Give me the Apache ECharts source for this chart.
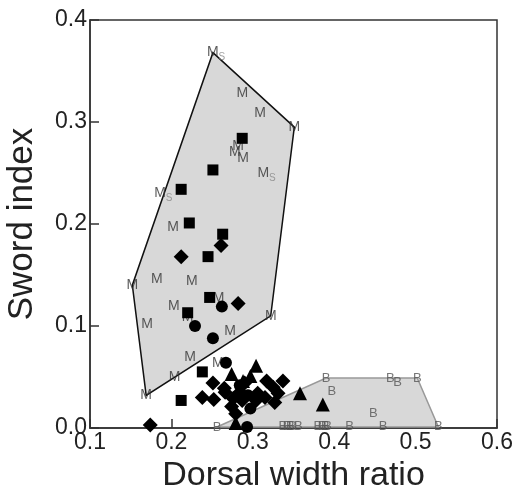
<!DOCTYPE html>
<html>
<head>
<meta charset="utf-8">
<script src="https://cdn.jsdelivr.net/npm/echarts@6/dist/echarts.min.js"></script>
<style>html,body{margin:0;padding:0;background:#fff}#c{width:526px;height:496px}</style>
</head>
<body>
<div id="c"></div>
<script>
const xTicks = [0.1, 0.2, 0.3, 0.4, 0.5, 0.6];
const yTicks = [0.0, 0.1, 0.2, 0.3, 0.4];

const squares = [[0.287,0.284],[0.251,0.253],[0.212,0.234],[0.222,0.201],[0.263,0.190],[0.245,0.168],[0.247,0.128],[0.220,0.113],[0.238,0.055],[0.212,0.027]];
const diamonds = [[0.261,0.179],[0.212,0.168],[0.282,0.122],[0.174,0.003],
  [0.251,0.044],[0.265,0.039],[0.238,0.030],[0.252,0.028],[0.266,0.035],[0.276,0.029],[0.287,0.027],[0.274,0.021],[0.284,0.035],
  [0.317,0.046],[0.337,0.046],[0.315,0.030],[0.331,0.034],[0.327,0.025],[0.325,0.040],[0.306,0.034],[0.304,0.027],[0.290,0.044],[0.279,0.014]];
const circles = [[0.262,0.119],[0.229,0.100],[0.251,0.088],[0.267,0.064],[0.294,0.032],[0.297,0.019],[0.293,0.001],[0.284,0.042]];
const triangles = [[0.304,0.061],[0.274,0.053],[0.297,0.051],[0.288,0.046],[0.358,0.034],[0.386,0.023],[0.279,0.005]];

const mPoints = [[0.287,0.328],[0.309,0.309],[0.351,0.295],[0.282,0.276],[0.278,0.270],[0.288,0.265],[0.202,0.197],[0.152,0.140],[0.182,0.146],[0.225,0.144],[0.258,0.127],[0.203,0.119],[0.220,0.109],[0.170,0.102],[0.272,0.095],[0.322,0.110],[0.223,0.069],[0.204,0.050],[0.257,0.064],[0.169,0.032]];
const msPoints = [[0.251,0.368],[0.313,0.250],[0.186,0.230]];
const bPoints = [[0.256,0.001],[0.390,0.049],[0.397,0.036],[0.469,0.049],[0.478,0.045],[0.502,0.049],[0.448,0.014],
  [0.337,0.002],[0.342,0.002],[0.346,0.002],[0.349,0.002],[0.356,0.002],[0.380,0.002],[0.385,0.002],[0.389,0.002],[0.392,0.002],[0.419,0.002],[0.460,0.002],[0.528,0.002]];

const hullM = [[0.251,0.368],[0.351,0.295],[0.322,0.110],[0.169,0.032],[0.152,0.140]];
const hullB = [[0.256,0.001],[0.390,0.049],[0.502,0.049],[0.528,0.001]];

const FONT = '"Liberation Sans", Arial, sans-serif';
const chart = echarts.init(document.getElementById('c'));

function hullSeries(verts, stroke, z) {
  return {
    type: 'custom', z: z, silent: true,
    data: [0],
    renderItem: function (params, api) {
      const pts = verts.map(v => api.coord(v));
      return { type: 'polygon', shape: { points: pts },
        style: { fill: '#d8d8d8', stroke: stroke, lineWidth: 1.5 } };
    }
  };
}
function textSeries(pts, txt, color, size, offset, z) {
  return {
    type: 'scatter', data: pts, symbolSize: 0, z: z, silent: true,
    label: { show: true, position: 'inside', formatter: txt, color: color,
      fontSize: size, fontFamily: FONT, offset: offset || [0,0] }
  };
}
function markSeries(pts, symbol, size) {
  return { type: 'scatter', data: pts, symbol: symbol, symbolSize: size, z: 10,
    itemStyle: { color: '#000', opacity: 1 } };
}

chart.setOption({
  animation: false,
  grid: { left: 90, right: 29, top: 20, bottom: 68, containLabel: false, outerBoundsMode: 'none',
    show: true, borderColor: '#333', borderWidth: 1.5, backgroundColor: 'transparent' },
  xAxis: {
    type: 'value', min: xTicks[0], max: xTicks[xTicks.length-1], interval: 0.1,
    name: 'Dorsal width ratio', nameLocation: 'middle', nameGap: 26,
    nameTextStyle: { fontSize: 34, color: '#222', fontFamily: FONT },
    axisLine: { lineStyle: { color: '#333', width: 1.5 } },
    axisTick: { inside: true, length: 9, lineStyle: { color: '#333', width: 1.5 } },
    axisLabel: { fontSize: 23, color: '#222', fontFamily: FONT, margin: 3, formatter: v => v.toFixed(1) },
    splitLine: { show: false }
  },
  yAxis: {
    type: 'value', min: yTicks[0], max: yTicks[yTicks.length-1], interval: 0.1,
    name: 'Sword index', nameLocation: 'middle', nameGap: 50,
    nameTextStyle: { fontSize: 35, color: '#222', fontFamily: FONT },
    axisLine: { lineStyle: { color: '#333', width: 1.5 } },
    axisTick: { inside: true, length: 9, lineStyle: { color: '#333', width: 1.5 } },
    axisLabel: { fontSize: 23, color: '#222', fontFamily: FONT, margin: 3, formatter: v => v.toFixed(1) },
    splitLine: { show: false }
  },
  series: [
    hullSeries(hullB, '#999', 1),
    hullSeries(hullM, '#111', 1),
    textSeries(bPoints, 'B', '#555', 13, [0,0], 3),
    textSeries(mPoints, 'M', '#333', 14, [0,0], 3),
    textSeries(msPoints, 'M', '#333', 14, [0,0], 3),
    textSeries(msPoints, 'S', '#888', 10, [9,5], 3),
    markSeries(squares, 'rect', 11),
    markSeries(diamonds, 'diamond', 15),
    markSeries(circles, 'circle', 12),
    markSeries(triangles, 'triangle', 14)
  ]
});
</script>
</body>
</html>
